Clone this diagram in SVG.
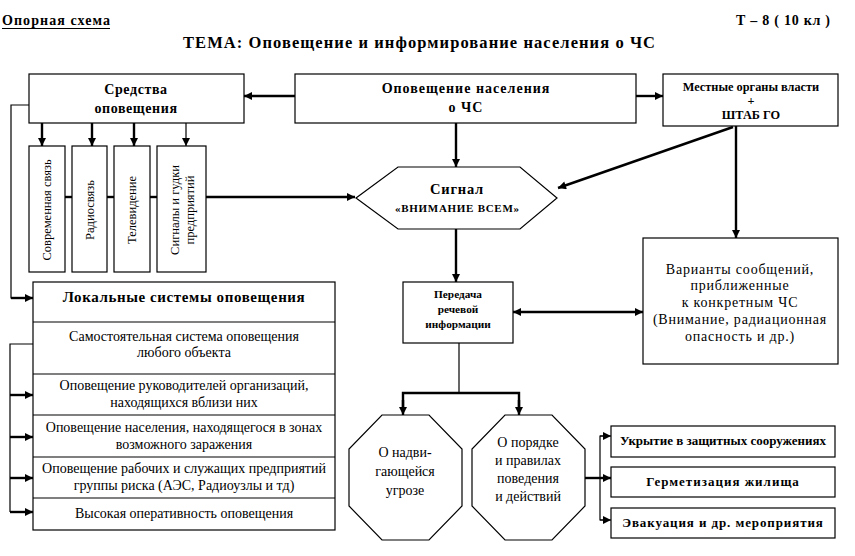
<svg xmlns="http://www.w3.org/2000/svg" width="855" height="556" viewBox="0 0 855 556" font-family="'Liberation Serif', 'Times New Roman', 'DejaVu Serif', serif">
<style>
text{font-family:'Liberation Serif','Times New Roman','DejaVu Serif',serif;fill:#000}
.b{font-weight:bold}
.box{fill:#fff;stroke:#000;stroke-width:1.2}
.c{text-anchor:middle}
.thin{stroke:#000;stroke-width:1.2;fill:none}
.thk{stroke:#000;stroke-width:2.4;fill:none}
</style>
<defs>
<marker id="ah" viewBox="0 0 10 10" refX="10" refY="5" markerWidth="9" markerHeight="8" orient="auto-start-reverse" markerUnits="userSpaceOnUse">
<path d="M0,0 L10,5 L0,10 z" fill="#000"/>
</marker>
</defs>
<rect width="855" height="556" fill="#fff"/>

<g id="header">
<text class="b" x="2" y="25" font-size="14" textLength="108" lengthAdjust="spacing">Опорная схема</text>
<line x1="2" y1="28.5" x2="110" y2="28.5" stroke="#000" stroke-width="1.2"/>
<text class="b" x="736" y="25" font-size="14" textLength="94" lengthAdjust="spacing">Т – 8 ( 10 кл )</text>
<text class="b" x="183" y="48" font-size="16.5" textLength="472" lengthAdjust="spacing">ТЕМА:  Оповещение и информирование населения о ЧС</text>
</g>

<g id="connectors">
<line class="thk" x1="295" y1="96" x2="244" y2="96" marker-end="url(#ah)"/>
<line class="thk" x1="636" y1="96" x2="663" y2="96" marker-end="url(#ah)"/>
<line class="thk" x1="42" y1="123" x2="42" y2="146" marker-end="url(#ah)"/>
<line class="thk" x1="92" y1="123" x2="92" y2="146" marker-end="url(#ah)"/>
<line class="thk" x1="134" y1="123" x2="134" y2="146" marker-end="url(#ah)"/>
<line class="thin" x1="186" y1="123" x2="186" y2="146" marker-end="url(#ah)"/>
<line class="thk" x1="65" y1="197" x2="72" y2="197"/>
<line class="thk" x1="107" y1="197" x2="114" y2="197"/>
<line class="thk" x1="150" y1="197" x2="157" y2="197"/>
<line class="thk" x1="206" y1="197" x2="355" y2="197" marker-end="url(#ah)"/>
<line class="thk" x1="456" y1="123" x2="456" y2="167" marker-end="url(#ah)"/>
<line class="thk" x1="733" y1="127" x2="558" y2="188" marker-end="url(#ah)"/>
<line class="thk" x1="736" y1="126" x2="736" y2="238" marker-end="url(#ah)"/>
<line class="thk" x1="456" y1="229" x2="456" y2="282" marker-end="url(#ah)"/>
<line class="thk" x1="513" y1="312" x2="643" y2="312" marker-start="url(#ah)" marker-end="url(#ah)"/>
<line class="thin" x1="459" y1="343" x2="459" y2="393"/>
<path class="thk" d="M403,410 V393 H519 V410"/>
<line class="thk" x1="403" y1="400" x2="403" y2="415" marker-end="url(#ah)"/>
<line class="thk" x1="519" y1="400" x2="519" y2="415" marker-end="url(#ah)"/>
<line class="thk" x1="585" y1="478" x2="611" y2="478" marker-end="url(#ah)"/>
<path class="thin" d="M606,436 H600 V520 H606"/>
<line class="thin" x1="600" y1="436" x2="611" y2="436" marker-end="url(#ah)"/>
<line class="thin" x1="600" y1="520" x2="611" y2="520" marker-end="url(#ah)"/>
<path class="thin" d="M29,105 H11 V298 H28"/>
<line class="thk" x1="11" y1="298" x2="33" y2="298" marker-end="url(#ah)"/>
<path class="thin" d="M33,344 H10 V512"/>
<line class="thk" x1="10" y1="395" x2="33" y2="395" marker-end="url(#ah)"/>
<line class="thk" x1="10" y1="437" x2="33" y2="437" marker-end="url(#ah)"/>
<line class="thk" x1="10" y1="478" x2="33" y2="478" marker-end="url(#ah)"/>
<line class="thk" x1="10" y1="512" x2="33" y2="512" marker-end="url(#ah)"/>
</g>

<g id="sredstva">
<rect class="box" x="29" y="74" width="215" height="49"/>
<text class="b c" x="136" y="94" font-size="14" letter-spacing="0.6">Средства</text>
<text class="b c" x="136" y="113" font-size="14" letter-spacing="0.6">оповещения</text>
</g>

<g id="opoveshchenie">
<rect class="box" x="295" y="74" width="341" height="49"/>
<text class="b c" x="466" y="93" font-size="14" letter-spacing="1">Оповещение населения</text>
<text class="b c" x="466" y="112" font-size="14" letter-spacing="1">о ЧС</text>
</g>

<g id="mestnye">
<rect class="box" x="663" y="74" width="175" height="52"/>
<text class="b c" x="751" y="91" font-size="12.3">Местные органы власти</text>
<text class="b c" x="751" y="105" font-size="12.3">+</text>
<text class="b c" x="751" y="119" font-size="12.3">ШТАБ ГО</text>
</g>

<g id="sovr">
<rect class="box" x="29" y="146" width="36" height="126"/>
<text class="c" transform="translate(51,210) rotate(-90)" font-size="12.5">Современная связь</text>
</g>
<g id="radio">
<rect class="box" x="72" y="146" width="35" height="126"/>
<text class="c" transform="translate(94,210) rotate(-90)" font-size="12.5">Радиосвязь</text>
</g>
<g id="tv">
<rect class="box" x="114" y="146" width="36" height="126"/>
<text class="c" transform="translate(136,210) rotate(-90)" font-size="12.5">Телевидение</text>
</g>
<g id="signaly">
<rect class="box" x="157" y="146" width="49" height="126"/>
<text class="c" transform="translate(179,210) rotate(-90)" font-size="12.5">Сигналы и гудки</text>
<text class="c" transform="translate(194,210) rotate(-90)" font-size="12.5">предприятий</text>
</g>

<g id="signal">
<polygon class="box" points="356,198 398,167 520,167 557,198 520,229 398,229"/>
<text class="b c" x="457" y="194" font-size="14.5" letter-spacing="0.8">Сигнал</text>
<text class="b c" x="457" y="212" font-size="11" textLength="124" lengthAdjust="spacing">«ВНИМАНИЕ ВСЕМ»</text>
</g>

<g id="peredacha">
<rect class="box" x="403" y="282" width="110" height="61"/>
<text class="b c" x="458" y="298" font-size="11.3">Передача</text>
<text class="b c" x="458" y="313" font-size="11.3">речевой</text>
<text class="b c" x="458" y="328" font-size="11.3">информации</text>
</g>

<g id="varianty">
<rect class="box" x="643" y="238" width="195" height="126"/>
<text class="c" x="740" y="274" font-size="14" letter-spacing="0.8">Варианты сообщений,</text>
<text class="c" x="740" y="290" font-size="14" letter-spacing="0.8">приближенные</text>
<text class="c" x="740" y="307" font-size="14" letter-spacing="0.8">к конкретным ЧС</text>
<text class="c" x="740" y="324" font-size="14" letter-spacing="0.8">(Внимание, радиационная</text>
<text class="c" x="740" y="341" font-size="14" letter-spacing="0.8">опасность и др.)</text>
</g>

<g id="lokalnye">
<rect class="box" x="33" y="282" width="302" height="248"/>
<line class="thin" x1="33" y1="322" x2="335" y2="322"/>
<line class="thin" x1="33" y1="374" x2="335" y2="374"/>
<line class="thin" x1="33" y1="415" x2="335" y2="415"/>
<line class="thin" x1="33" y1="457" x2="335" y2="457"/>
<line class="thin" x1="33" y1="498" x2="335" y2="498"/>
<text class="b c" x="184" y="302" font-size="15" letter-spacing="0.6">Локальные системы оповещения</text>
<text class="c" x="184" y="341" font-size="14">Самостоятельная система оповещения</text>
<text class="c" x="184" y="357" font-size="14">любого объекта</text>
<text class="c" x="184" y="390" font-size="14">Оповещение руководителей организаций,</text>
<text class="c" x="184" y="407" font-size="14">находящихся вблизи них</text>
<text class="c" x="184" y="432" font-size="14">Оповещение населения, находящегося в зонах</text>
<text class="c" x="184" y="449" font-size="14">возможного заражения</text>
<text class="c" x="184" y="473" font-size="14">Оповещение рабочих и служащих предприятий</text>
<text class="c" x="184" y="490" font-size="14">группы риска (АЭС, Радиоузлы и тд)</text>
<text class="c" x="184" y="518" font-size="14">Высокая оперативность оповещения</text>
</g>

<g id="ugroza">
<polygon class="box" points="382,415 429,415 462,449 462,506 429,540 382,540 349,506 349,449"/>
<text class="c" x="405" y="457" font-size="14">О надви-</text>
<text class="c" x="405" y="476" font-size="14">гающейся</text>
<text class="c" x="405" y="495" font-size="14">угрозе</text>
</g>

<g id="poryadok">
<polygon class="box" points="505,415 552,415 585,449 585,506 552,540 505,540 472,506 472,449"/>
<text class="c" x="528" y="447" font-size="14">О порядке</text>
<text class="c" x="528" y="465" font-size="14">и правилах</text>
<text class="c" x="528" y="483" font-size="14">поведения</text>
<text class="c" x="528" y="501" font-size="14">и действий</text>
</g>

<g id="ukrytie">
<rect class="box" x="611" y="426" width="224" height="31"/>
<text class="b c" x="723" y="445" font-size="13">Укрытие в защитных сооружениях</text>
</g>
<g id="germetizatsiya">
<rect class="box" x="611" y="467" width="224" height="30"/>
<text class="b c" x="723" y="486" font-size="13" letter-spacing="1">Герметизация жилища</text>
</g>
<g id="evakuatsiya">
<rect class="box" x="611" y="508" width="224" height="30"/>
<text class="b c" x="723" y="527" font-size="13" letter-spacing="0.9">Эвакуация и др. мероприятия</text>
</g>
</svg>
